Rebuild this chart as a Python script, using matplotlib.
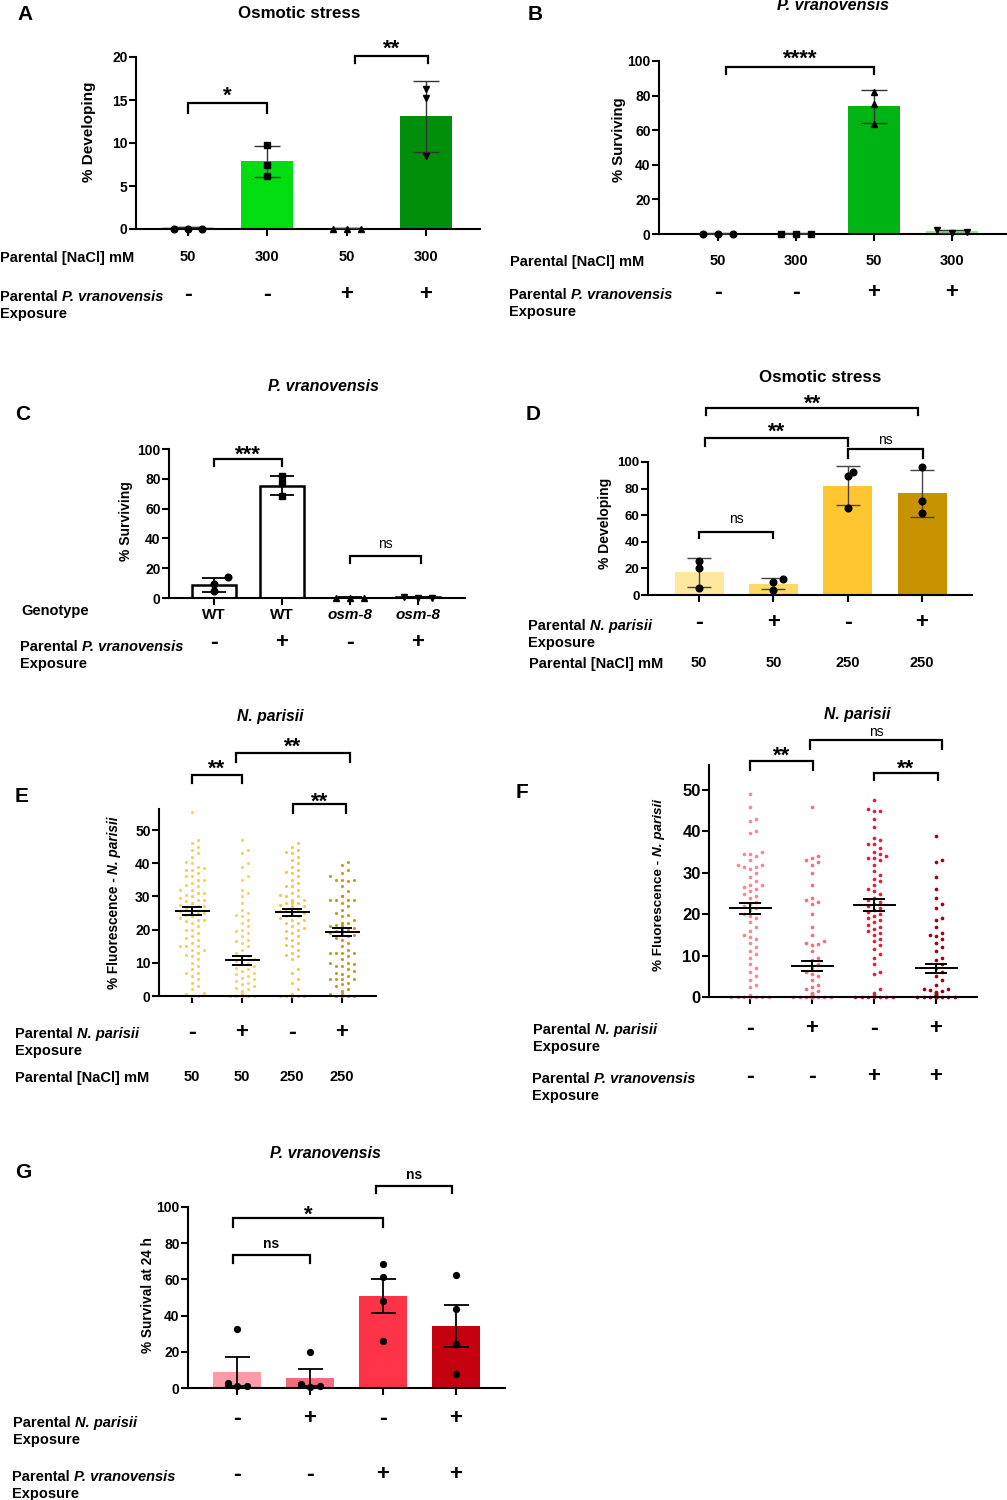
import numpy as np
import matplotlib
matplotlib.use("Agg")
import matplotlib.pyplot as plt
from matplotlib.transforms import blended_transform_factory

plt.rcParams['font.family'] = ['Liberation Sans', 'DejaVu Sans']
plt.rcParams['font.weight'] = 'bold'
plt.rcParams['axes.linewidth'] = 1.5

# ---------------- data ----------------
# A: osmotic stress, % developing
A_nacl = ["50", "300", "50", "300"]
A_pv = ["-", "-", "+", "+"]
A_mean = [0.2, 7.85, 0.15, 13.1]
A_sd = [0.0, 1.85, 0.0, 4.1]
A_pts = [[0, 0, 0], [9.8, 7.5, 6.2], [0, 0, 0], [16.3, 15.2, 8.5]]
A_colors = ["#9be89b", "#00dd11", "#9be89b", "#008f0a"]

# B: P. vranovensis, % surviving
B_nacl = ["50", "300", "50", "300"]
B_pv = ["-", "-", "+", "+"]
B_mean = [0.3, 0.4, 73.8, 1.5]
B_sd = [0.3, 0.3, 9.4, 1.0]
B_pts = [[0, 0, 0], [0, 0.2, 0], [82.3, 75.2, 63.6], [0.5, 2.5, 1.3]]
B_colors = ["#9be89b", "#9be89b", "#00b414", "#9be89b"]

# C: genotype
C_geno = ["WT", "WT", "osm-8", "osm-8"]
C_pv = ["-", "+", "-", "+"]
C_mean = [8.5, 75.5, 0.3, 0.5]
C_sd = [4.8, 6.5, 0.2, 0.2]
C_pts = [[14.0, 9.6, 4.7], [82.0, 77.0, 68.5], [0, 0, 0], [0.3, 0.5, 0.3]]

# D: osmotic stress with N. parisii
D_np = ["-", "+", "-", "+"]
D_nacl = ["50", "50", "250", "250"]
D_mean = [17.0, 8.5, 82.0, 76.5]
D_sd = [10.7, 4.0, 14.7, 17.6]
D_pts = [[25.8, 20.3, 5.3], [12.0, 9.5, 4.0], [92.5, 89.2, 65.2], [96.2, 71.0, 61.9]]
D_colors = ["#fee8a0", "#ffd966", "#ffc631", "#c79300"]

# E: % fluorescence, N. parisii + NaCl
E_np = ["-", "+", "-", "+"]
E_nacl = ["50", "50", "250", "250"]
E_mean = [25.6, 10.75, 25.2, 19.3]
E_sem = [1.1, 1.35, 1.1, 1.1]
E_colors = ["#f8cd5c", "#f8d068", "#f5c650", "#c4982a"]
E_g1 = [55.5, 47, 46, 45, 44, 43, 42, 40.5, 40, 39, 38.5, 38, 38, 37, 36, 36, 35, 35, 34,
        33.5, 33, 32, 32, 31, 31, 30.5, 30, 30, 29.5, 29, 29, 28.5, 28, 28, 28, 27.5, 27, 27,
        26.5, 26, 26, 26, 25.5, 25, 25, 25, 24.5, 24, 24, 24, 23.5, 23, 23, 22.5, 22, 21, 20,
        20, 19, 18, 17.5, 17, 16, 15, 15, 15, 14, 14, 13, 12.5, 12, 11, 10, 9, 8, 7, 7, 6, 5,
        4, 3, 2, 1, 0.5, 0, 0]
E_g2 = [47, 44, 43, 40, 39, 36, 35, 32, 31, 30, 28, 26, 25, 24.5, 24, 23, 22, 21, 20, 19.5,
        19, 18, 17, 16.5, 16, 15, 14, 13, 12, 11.5, 11, 10.5, 10, 9.5, 9, 8.5, 8, 7.5, 7, 6.5,
        6, 5.5, 5, 4.5, 4, 3.5, 3, 2.5, 2, 1.5, 1, 0.5, 0.5, 0.5, 0.5, 0.5, 0.5, 0.5, 0.5,
        0, 0, 0, 0, 0, 0, 0, 0, 0, 0, 0]
E_g3 = [46, 45, 44, 43.5, 43, 42, 41, 40, 39, 38, 37.5, 37, 36, 35, 34, 33, 33, 32, 31, 30.5,
        30, 30, 29, 29, 28.5, 28.5, 28, 28, 28, 27.5, 27, 27, 27, 26.5, 26, 26, 25.5, 25, 25,
        24.5, 24, 24, 23.5, 23, 23, 22, 22, 21, 20.5, 20, 19.5, 19, 18, 17.5, 17, 16, 15.5,
        15, 14, 13, 12.5, 12, 11, 8, 7, 5, 4, 2, 0.5, 0, 0, 0, 0, 0]
E_g4 = [40.5, 39.5, 38, 37, 36, 35, 35, 35, 34.5, 33, 31.5, 30, 30, 30, 30, 29, 29, 29, 29,
        28, 27, 26, 25, 24.5, 24, 23, 22, 22, 22, 21.5, 21, 21, 21, 20.5, 20, 20, 20, 20,
        19.5, 19, 19, 19, 18.5, 18, 17.5, 17, 16, 15, 14, 13, 13, 13, 13, 12, 11, 10, 10, 9.5,
        9, 9, 8, 7.5, 7, 6.5, 6, 5, 5, 5, 5, 4, 3.5, 3, 2, 1.5, 1, 0.5, 0, 0, 0, 0]
E_groups = [E_g1, E_g2, E_g3, E_g4]

# F: % fluorescence, N. parisii + P. vranovensis
F_np = ["-", "+", "-", "+"]
F_pv = ["-", "-", "+", "+"]
F_mean = [21.4, 7.57, 22.2, 6.9]
F_sem = [1.4, 1.2, 1.37, 1.13]
F_colors = ["#f28a99", "#f4707f", "#e0203a", "#a00010"]
F_g1 = [49, 46, 43, 42.5, 40, 39.5, 35, 34.5, 34.5, 34, 33, 32, 32, 31.5, 31.5, 31, 30, 29,
        28, 27, 27, 26.5, 26, 25.5, 25, 24.5, 24, 23, 22.5, 22, 21.5, 21, 20, 19.5, 19, 18,
        17, 16, 15, 14.5, 14, 13, 12, 11, 10.5, 9.5, 8, 7, 6, 5, 4, 3, 2.5, 0.5,
        0, 0, 0, 0, 0, 0, 0, 0]
F_g2 = [46, 34, 33.5, 33, 32.5, 32, 30, 27, 24, 23.5, 23, 22.5, 20, 17, 15, 13.5, 13, 12.8,
        12.5, 11, 9.5, 9, 8, 7, 6, 5.5, 5, 4, 3, 2.5, 2, 1.5, 1, 0.8, 0.5, 0.3, 0.3, 0.3,
        0, 0, 0, 0, 0, 0, 0, 0, 0, 0, 0, 0, 0, 0]
F_g3 = [47.5, 45.5, 45, 45, 43, 41, 38.5, 38, 37, 37, 36, 35, 34.5, 34, 33.5, 33.5, 33, 32,
        30.5, 29.5, 28.5, 28, 27, 26, 25.5, 25, 24, 23.5, 23, 22.5, 22, 21.5, 21, 20.5, 20,
        19.5, 19, 18.5, 18, 17.5, 17, 16.5, 16, 15.5, 15, 14, 13.5, 12.5, 11.5, 10.5, 9.5, 8,
        6, 5.5, 2, 1, 0.5, 0, 0, 0, 0, 0, 0, 0]
F_g4 = [39, 33, 32.5, 29, 26, 24, 22.5, 21.5, 19, 18.5, 17, 15.5, 15, 14.8, 14, 13, 12, 11,
        9.5, 9, 8, 7, 6, 5, 4, 3, 2, 2, 1.8, 1.5, 1.2, 1, 0.8, 0.5, 0.3, 0.3, 0.3, 0.3,
        0, 0, 0, 0, 0, 0, 0, 0, 0, 0, 0, 0, 0]
F_groups = [F_g1, F_g2, F_g3, F_g4]

# G: P. vranovensis survival at 24 h
G_np = ["-", "+", "-", "+"]
G_pv = ["-", "-", "+", "+"]
G_mean = [9.0, 5.7, 50.8, 34.3]
G_sem = [8.1, 4.8, 9.35, 11.75]
G_pts = [[32.7, 2.7, 1.0, 0.9], [19.8, 2.2, 0.9, 0.4], [68.4, 61.1, 48.3, 26.2],
         [62.4, 43.7, 24.4, 7.7]]
G_colors = ["#ff9ba6", "#f26d7d", "#ff3347", "#c4000f"]

PV = [('Parental', 'normal'), ('P. vranovensis', 'italic')]
NP = [('Parental', 'normal'), ('N. parisii', 'italic')]
EXP = [('Exposure', 'normal')]
NACL = [('Parental [NaCl] mM', 'normal')]

# ---------------- figure ----------------
W, H = 1007, 1500
fig = plt.figure(figsize=(W / 100, H / 100), dpi=100)
rend = fig.canvas.get_renderer()


def fy(py):
    return 1 - py / H


def text_w(txt, fs, style):
    t = fig.text(0, 0, txt, fontsize=fs, fontstyle=style)
    w = t.get_window_extent(rend).width
    t.remove()
    return w


def mixed(px, py, parts, fs=10.5, rot=False):
    # parts of one label drawn side by side (regular + italic), px/py in pixels
    widths = [text_w(t, fs, st) for t, st in parts]
    gap = 0.27 * fs * 100 / 72
    total = sum(widths) + gap * (len(parts) - 1)
    cap = 0.72 * fs * 100 / 72
    if not rot:
        x, yb = px, py + cap / 2
        for (t, st), w in zip(parts, widths):
            fig.text(x / W, fy(yb), t, fontsize=fs, fontstyle=st, ha='left', va='baseline')
            x += w + gap
    else:
        xb, y = px + cap / 2, py + total / 2
        for (t, st), w in zip(parts, widths):
            fig.text(xb / W, fy(y), t, fontsize=fs, fontstyle=st, rotation=90,
                     rotation_mode='anchor', ha='left', va='baseline')
            y -= w + gap


def label(px, py, lines, fs=10.5, dy=16.5):
    for j, ln in enumerate(lines):
        mixed(px, py + j * dy, ln, fs)


def make_axes(xl, xr, y0, yref, vref, centers, top, ticks, tsize):
    ppu = (y0 - yref) / vref
    ytop = y0 - top * ppu
    ax = fig.add_axes([xl / W, fy(y0), (xr - xl) / W, (y0 - ytop) / H])
    s = (centers[-1] - centers[0]) / (len(centers) - 1)
    ax.set_xlim(-(centers[0] - xl) / s, len(centers) - 1 + (xr - centers[-1]) / s)
    ax.set_ylim(0, top)
    ax.spines[['top', 'right']].set_visible(False)
    ax.set_xticks(range(len(centers)))
    ax.set_xticklabels([])
    ax.set_yticks(ticks)
    ax.tick_params(width=1.5, length=5, labelsize=tsize, pad=1)
    ax.patch.set_alpha(0)
    return ax, s, ppu


def swarm(vals, ppu, dot, s, maxw, step=None):
    # simple beeswarm: spread points that would overlap, in pixels
    vals = np.asarray(vals, float)
    step = step or dot
    xs = np.zeros(len(vals))
    placed = []
    for i in np.argsort(vals):
        y = vals[i] * ppu
        found = None
        k = 0
        while k * step <= maxw / 2:
            for c in ([0.0] if k == 0 else [k * step, -k * step]):
                if all((c - px) ** 2 + (y - py) ** 2 >= (dot * 0.95) ** 2 for py, px in placed):
                    found = c
                    break
            if found is not None:
                break
            k += 1
        if found is None:
            found = 0.0
        placed.append((y, found))
        xs[i] = found / s
    return xs


def bracket(ax, x1, x2, y, drop, text, off=13, weight='bold'):
    # off: distance in px from the bracket line to the centre of the label
    ax.plot([x1, x1, x2, x2], [y - drop, y, y, y - drop], color='k', lw=1.6,
            clip_on=False, solid_joinstyle='miter')
    if text.startswith('*'):
        fs, mid = 16, 0.58
    else:
        fs, mid = 10, 0.26
    base_px = off - mid * fs * 100 / 72
    ax.annotate(text, xy=((x1 + x2) / 2, y), xytext=(0, base_px * 0.72),
                textcoords='offset points', ha='center', va='baseline', fontsize=fs,
                fontweight=weight, annotation_clip=False)


def row(ax, py, labels, fs=10.5, italic_idx=()):
    tr = blended_transform_factory(ax.transData, fig.transFigure)
    for i, lab in enumerate(labels):
        st = 'italic' if i in italic_idx else 'normal'
        if lab == '+':
            ax.text(i, fy(py), lab, transform=tr, ha='center', va='center', fontsize=16,
                    fontweight='heavy')
        elif lab == '-':
            ax.text(i, fy(py), '-', transform=tr, ha='center', va='center', fontsize=17,
                    fontweight='heavy')
        else:
            ax.text(i, fy(py), lab, transform=tr, ha='center', va='center', fontsize=fs,
                    fontstyle=st)


def title(px, py, txt, fs=12, italic=False):
    fig.text(px / W, fy(py), txt, ha='center', va='center', fontsize=fs,
             fontstyle='italic' if italic else 'normal')


def letter(px, py, txt):
    fig.text(px / W, fy(py), txt, ha='center', va='center', fontsize=15)


def bars(ax, s, width_px, means, errs, colors, ecolor, elw, cap_px, edge=None):
    x = np.arange(len(means))
    ax.bar(x, means, width=width_px / s, color=colors,
           edgecolor=edge if edge else colors, linewidth=1.8 if edge else 0, zorder=1)
    ax.errorbar(x, means, yerr=errs, fmt='none', ecolor=ecolor, elinewidth=elw,
                capsize=cap_px * 0.72 / 2, capthick=elw, zorder=3)


def points(ax, s, ppu, pts, markers, step, ms=4.8, dot=7):
    for i, (p, m) in enumerate(zip(pts, markers)):
        xo = swarm(p, ppu, dot, s, 40, step=step)
        ax.plot(i + xo, p, m, color='k', ms=ms, ls='none', zorder=4, clip_on=False)


def scatter_groups(ax, s, ppu, groups, colors, means, sems, dot, maxw, size, mean_px, cap_px):
    for i, g in enumerate(groups):
        xo = swarm(g, ppu, dot, s, maxw)
        ax.scatter(i + xo, g, s=size, color=colors[i], zorder=2, clip_on=False, linewidths=0)
        ax.plot([i - mean_px / 2 / s, i + mean_px / 2 / s], [means[i]] * 2, color='k',
                lw=1.4, zorder=5)
        ax.errorbar(i, means[i], yerr=sems[i], fmt='none', ecolor='k', elinewidth=1.4,
                    capsize=cap_px * 0.72 / 2, capthick=1.4, zorder=5)


# ---------------- A ----------------
ax, s, ppu = make_axes(136, 480, 229, 57, 20, [188, 267, 347, 426], 20, [0, 5, 10, 15, 20], 10)
bars(ax, s, 52, A_mean, A_sd, A_colors, '#333333', 1.0, 27)
points(ax, s, ppu, A_pts, ['o', 's', '^', 'v'], 14)
bracket(ax, 0, 1, 14.65, 1.15, '*', off=14)
bracket(ax, 2.1, 3.03, 20.1, 0.85, '**', off=14)
title(299, 14, 'Osmotic stress', 12.2)
letter(25, 14, 'A')
mixed(88, 132, [('% Developing', 'normal')], 11, rot=True)
label(0, 257, [NACL])
row(ax, 257, A_nacl)
label(0, 296, [PV, EXP])
row(ax, 295, A_pv)

# ---------------- B ----------------
ax, s, ppu = make_axes(659, 1007, 234, 61, 100, [718, 797, 874, 952], 100,
                       [0, 20, 40, 60, 80, 100], 10)
bars(ax, s, 52, B_mean, B_sd, B_colors, '#333333', 1.0, 27)
points(ax, s, ppu, B_pts, ['o', 's', '^', 'v'], 15)
bracket(ax, 0.1, 2.0, 96.5, 4.0, '****', off=15)
title(833, 6, 'P. vranovensis', 11.6, italic=True)
letter(535, 14, 'B')
mixed(618, 140, [('% Surviving', 'normal')], 10.7, rot=True)
label(510, 261, [NACL])
row(ax, 261, B_nacl)
label(509, 294, [PV, EXP])
row(ax, 293, B_pv)

# ---------------- C ----------------
ax, s, ppu = make_axes(169, 465, 598, 449, 100, [214, 283, 350, 418], 100,
                       [0, 20, 40, 60, 80, 100], 10)
bars(ax, s, 44, C_mean, C_sd, ['white'] * 4, 'k', 1.3, 24, edge='k')
points(ax, s, ppu, C_pts, ['o', 's', '^', 'v'], 14)
bracket(ax, 0, 1, 93.3, 4.7, '***', off=11)
bracket(ax, 2, 3.05, 28, 4.5, 'ns', off=12, weight='normal')
title(323, 386, 'P. vranovensis', 11.5, italic=True)
letter(23, 415, 'C')
mixed(125, 521, [('% Surviving', 'normal')], 10, rot=True)
label(21, 610, [[('Genotype', 'normal')]])
row(ax, 615, C_geno, fs=11, italic_idx=(2, 3))
label(20, 646, [PV, EXP])
row(ax, 643, C_pv)

# ---------------- D ----------------
ax, s, ppu = make_axes(648, 972, 595, 462, 100, [699, 773, 847, 922], 100,
                       [0, 20, 40, 60, 80, 100], 9.5)
bars(ax, s, 49, D_mean, D_sd, D_colors, '#444444', 1.0, 24)
points(ax, s, ppu, D_pts, ['o'] * 4, 5)
bracket(ax, 0, 1, 47.3, 4.3, 'ns', off=13, weight='normal')
bracket(ax, 0.08, 2.0, 118, 6, '**', off=13)
bracket(ax, 2.0, 3.01, 110, 7, 'ns', off=8, weight='normal')
bracket(ax, 0.1, 2.95, 140.6, 5.5, '**', off=11)
title(820, 377, 'Osmotic stress', 12.2)
letter(533, 415, 'D')
mixed(604, 523, [('% Developing', 'normal')], 10, rot=True)
label(528, 625, [NP, EXP])
row(ax, 623, D_np)
label(529, 663, [NACL])
row(ax, 663, D_nacl)

# ---------------- E ----------------
ax, s, ppu = make_axes(159, 376, 996, 830, 50, [192, 241, 292, 342], 56.3,
                       [0, 10, 20, 30, 40, 50], 10)
scatter_groups(ax, s, ppu, E_groups, E_colors, E_mean, E_sem, 5.8, 34, 5, 33, 20)
bracket(ax, 0, 1, 66.6, 2.5, '**', off=13)
bracket(ax, 0.87, 3.15, 73.2, 2.7, '**', off=13)
bracket(ax, 2.02, 3.07, 57.8, 2.7, '**', off=9)
title(270, 716, 'N. parisii', 11.3, italic=True)
letter(22, 797, 'E')
mixed(113, 903, [('% Fluorescence -', 'normal'), ('N. parisii', 'italic')], 9.8, rot=True)
label(15, 1033, [NP, EXP])
row(ax, 1032, E_np)
label(15, 1077, [NACL])
row(ax, 1077, E_nacl)

# ---------------- F ----------------
ax, s, ppu = make_axes(709, 977, 997, 790, 50, [750, 812, 873, 936], 56,
                       [0, 10, 20, 30, 40, 50], 12)
scatter_groups(ax, s, ppu, F_groups, F_colors, F_mean, F_sem, 6.2, 46, 7, 41, 22)
bracket(ax, 0, 1.01, 57, 2.2, '**', off=12)
bracket(ax, 0.97, 3.1, 62, 2.2, 'ns', off=8, weight='normal')
bracket(ax, 2.0, 3.03, 54.2, 1.9, '**', off=11)
title(857, 715, 'N. parisii', 11.3, italic=True)
letter(522, 792, 'F')
mixed(657, 885, [('% Fluorescence -', 'normal'), ('N. parisii', 'italic')], 9.7, rot=True)
label(533, 1029, [NP, EXP])
row(ax, 1028, F_np)
label(532, 1078, [PV, EXP])
row(ax, 1076, F_pv)

# ---------------- G ----------------
ax, s, ppu = make_axes(188, 505, 1388, 1207, 100, [237, 310, 383, 456], 100,
                       [0, 20, 40, 60, 80, 100], 10)
bars(ax, s, 48, G_mean, G_sem, G_colors, 'k', 1.3, 25)
points(ax, s, ppu, G_pts, ['o'] * 4, 9.5, ms=4.2, dot=6)
bracket(ax, -0.06, 1.0, 73.5, 4.5, 'ns', off=11)
bracket(ax, -0.06, 2.0, 94, 5, '*', off=10)
bracket(ax, 1.9, 2.95, 111.6, 4, 'ns', off=11)
title(325, 1154, 'P. vranovensis', 11.5, italic=True)
letter(23, 1172, 'G')
mixed(147, 1295, [('% Survival at 24 h', 'normal')], 9.8, rot=True)
label(13, 1422, [NP, EXP])
row(ax, 1419, G_np)
label(12, 1476, [PV, EXP])
row(ax, 1474, G_pv)

fig.savefig("out.png", dpi=100)
